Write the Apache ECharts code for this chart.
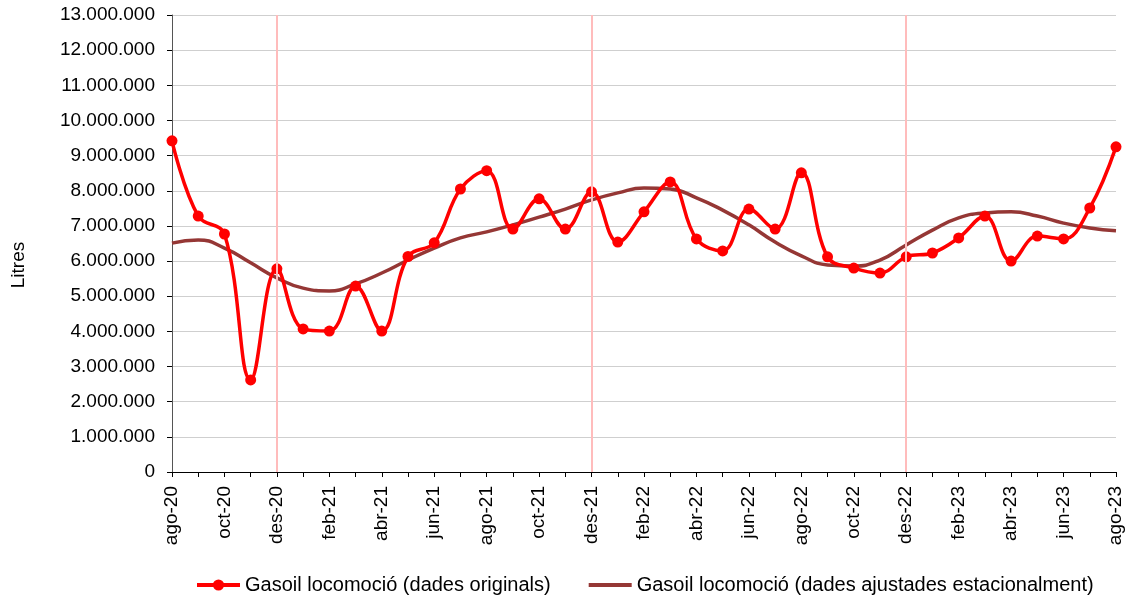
<!DOCTYPE html>
<html><head><meta charset="utf-8">
<script src="https://cdn.jsdelivr.net/npm/echarts@6/dist/echarts.min.js"></script>
<style>html,body{margin:0;padding:0;background:#fff}#c{width:1132px;height:597px}</style>
</head><body><div id="c"></div>
<script>
var categories = ['ago-20','set-20','oct-20','nov-20','des-20','gen-21','feb-21','mar-21','abr-21','mai-21','jun-21','jul-21',
 'ago-21','set-21','oct-21','nov-21','des-21','gen-22','feb-22','mar-22','abr-22','mai-22','jun-22','jul-22',
 'ago-22','set-22','oct-22','nov-22','des-22','gen-23','feb-23','mar-23','abr-23','mai-23','jun-23','jul-23','ago-23'];
var original = [9420000,7280000,6770000,2620000,5780000,4070000,4010000,5290000,4010000,6130000,6520000,8050000,
 8570000,6910000,7770000,6910000,7970000,6540000,7400000,8250000,6630000,6290000,7480000,6910000,
 8510000,6120000,5800000,5660000,6120000,6230000,6660000,7280000,6000000,6710000,6630000,7510000,9250000];
var adjusted = [6510000,6600000,6370000,5950000,5520000,5230000,5150000,5350000,5660000,6030000,6370000,6660000,
 6830000,7030000,7250000,7480000,7740000,7940000,8080000,8050000,7800000,7450000,7030000,6540000,
 6150000,5890000,5860000,6030000,6460000,6880000,7230000,7370000,7400000,7280000,7080000,6940000,6860000];
var yearBreaks = ['des-20','des-21','des-22'];
var nameOrig = 'Gasoil locomoció (dades originals)';
var nameAdj = 'Gasoil locomoció (dades ajustades estacionalment)';
var font = 'Liberation Sans, Arial, sans-serif';
function fmt(v){return String(v).replace(/\B(?=(\d{3})+(?!\d))/g,'.');}
var chart = echarts.init(document.getElementById('c'));
chart.setOption({
  animation:false,
  grid:{left:172,right:16,top:15,bottom:125,containLabel:false},
  graphic:[{type:'text',x:19,y:265,rotation:Math.PI/2,
    style:{text:'Litres',font:'19px Liberation Sans, Arial, sans-serif',fill:'#000',textAlign:'center',textVerticalAlign:'middle'}}],
  legend:{top:570,left:190,itemGap:38,itemWidth:43,itemHeight:14,
    textStyle:{fontFamily:font,fontSize:20,color:'#000'},
    data:[{name:nameOrig,lineStyle:{width:4}},
          {name:nameAdj,icon:'path://M0,0 M0,5 L43,5 L43,9 L0,9 Z M43,14'}]},
  xAxis:{type:'category',data:categories,boundaryGap:false,
    axisLine:{lineStyle:{color:'#000',width:1}},
    axisTick:{show:true,interval:0,length:5,lineStyle:{color:'#000'}},
    axisLabel:{interval:1,rotate:90,fontFamily:font,fontSize:19,color:'#000',margin:14},
    splitLine:{show:false}},
  yAxis:{type:'value',min:0,max:13000000,interval:1000000,
    axisLine:{show:true,lineStyle:{color:'#555',width:1}},
    axisTick:{show:true,length:5,lineStyle:{color:'#000'}},
    axisLabel:{formatter:fmt,fontFamily:font,fontSize:19,color:'#000',margin:17},
    splitLine:{lineStyle:{color:'#cfcfcf',width:1}}},
  series:[
    {name:nameAdj,type:'line',data:adjusted,smooth:0.5,
      showSymbol:false,symbol:'none',z:2,
      lineStyle:{color:'#953735',width:3.5},itemStyle:{color:'#953735'},
      markLine:{silent:true,symbol:'none',label:{show:false},
        lineStyle:{color:'#ffbcbc',width:2,type:'solid'},
        data:yearBreaks.map(function(c){return {xAxis:c};})}},
    {name:nameOrig,type:'line',data:original,smooth:0.4,
      symbol:'circle',symbolSize:11,z:3,
      lineStyle:{color:'#ff0000',width:3.5},itemStyle:{color:'#ff0000'}}
  ]
});
</script></body></html>
